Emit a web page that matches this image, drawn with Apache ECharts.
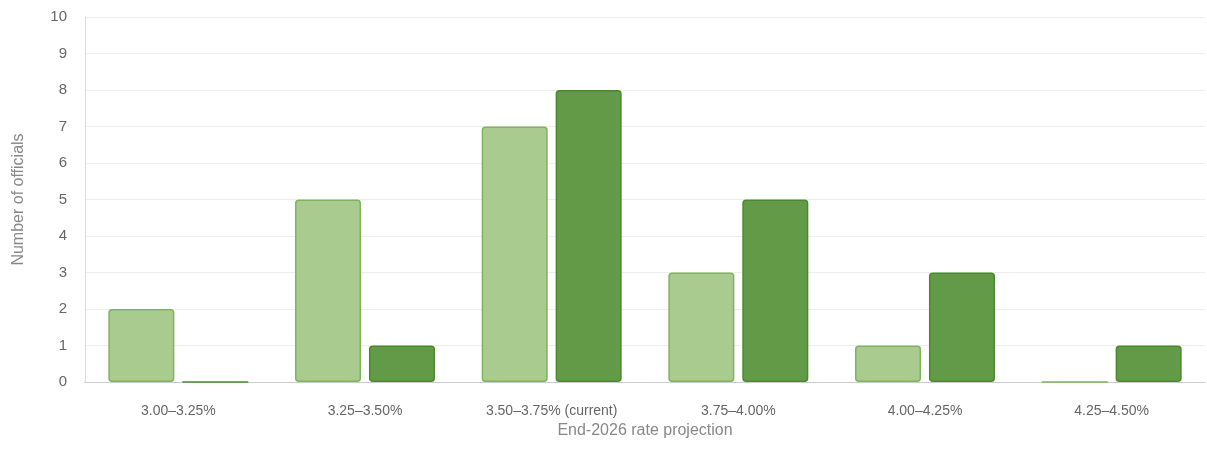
<!DOCTYPE html>
<html><head><meta charset="utf-8">
<script src="https://cdn.jsdelivr.net/npm/echarts@6/dist/echarts.min.js"></script>
<style>html,body{margin:0;padding:0;background:#fff}#c{width:1207px;height:467px}</style>
</head><body><div id="c"></div>
<script>
const categories = ["3.00–3.25%","3.25–3.50%","3.50–3.75% (current)","3.75–4.00%","4.00–4.25%","4.25–4.50%"];
const seriesA = [2,5,7,3,1,0];
const seriesB = [0,1,8,5,3,1];
const yTicks = {min:0,max:10,interval:1};
const chart = echarts.init(document.getElementById('c'));
const font = 'Helvetica, "Liberation Sans", Arial, sans-serif';
chart.setOption({
  animation:false,
  textStyle:{fontFamily:font},
  grid:{left:85,right:2,top:17,bottom:85},
  xAxis:{type:'category',data:categories,
    name:'End-2026 rate projection',nameLocation:'middle',nameGap:40,
    nameTextStyle:{color:'#888',fontSize:16,fontFamily:font},
    axisLine:{lineStyle:{color:'#ccc'}},axisTick:{show:false},
    axisLabel:{color:'#666',fontSize:14,margin:22,fontFamily:font}},
  yAxis:{type:'value',min:yTicks.min,max:yTicks.max,interval:yTicks.interval,
    name:'Number of officials',nameLocation:'middle',nameGap:58,
    nameTextStyle:{color:'#888',fontSize:16,fontFamily:font},
    axisLine:{show:true,lineStyle:{color:'#ddd'}},
    axisLabel:{color:'#666',fontSize:15,margin:18,fontFamily:font},
    splitLine:{lineStyle:{color:'#eee'}}},
  series:[
    {type:'bar',data:seriesA,barGap:'12%',barCategoryGap:'25%',
     itemStyle:{color:'#a9cb8f',borderColor:'#7fb35e',borderWidth:1.5,borderRadius:3}},
    {type:'bar',data:seriesB,
     itemStyle:{color:'#639a48',borderColor:'#4a8a2e',borderWidth:1.5,borderRadius:3}}
  ]
});
</script></body></html>
